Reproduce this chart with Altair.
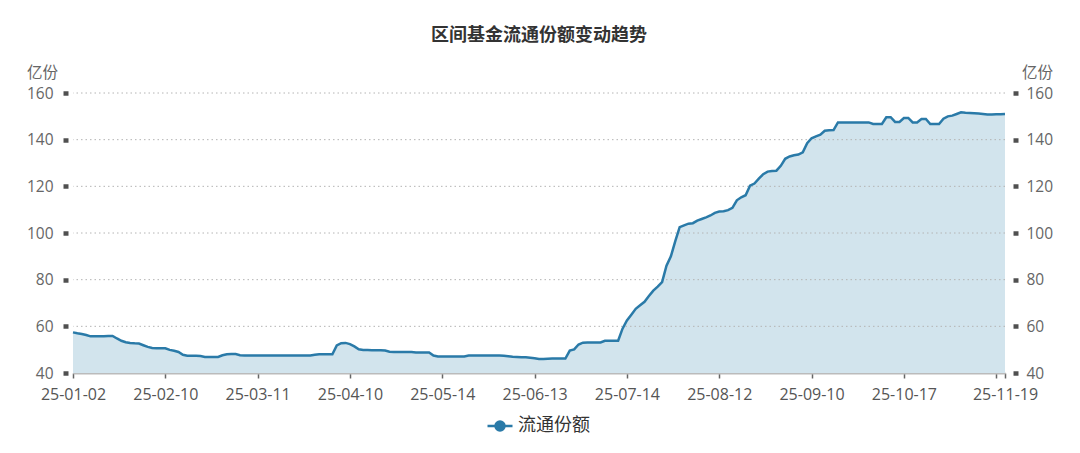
import altair as alt
import pandas as pd

TITLE = "区间基金流通份额变动趋势"
SERIES = "流通份额"
UNIT = "亿份"

# one value per trading day (2025-01-02 .. 2025-11-19)
VALUES = [
    57.4, 57.0, 56.7, 56.3, 55.7, 55.7, 55.7, 55.8, 55.9, 55.9,
    54.8, 53.8, 53.2, 52.9, 52.7, 52.6, 51.9, 51.2, 50.7, 50.6,
    50.6, 50.6, 49.9, 49.5, 49.0, 47.8, 47.4, 47.4, 47.4, 47.3,
    46.9, 46.9, 46.9, 46.9, 47.6, 48.0, 48.1, 48.1, 47.6, 47.5,
    47.5, 47.5, 47.5, 47.5, 47.5, 47.5, 47.5, 47.5, 47.5, 47.5,
    47.5, 47.5, 47.5, 47.5, 47.5, 47.8, 48.0, 48.0, 48.0, 48.0,
    51.8, 52.8, 52.9, 52.4, 51.4, 50.2, 49.9, 49.9, 49.8, 49.8,
    49.7, 49.6, 49.1, 49.0, 49.0, 49.0, 49.0, 49.0, 48.8, 48.8,
    48.8, 48.8, 47.5, 47.1, 47.1, 47.1, 47.1, 47.1, 47.1, 47.1,
    47.5, 47.5, 47.5, 47.5, 47.5, 47.5, 47.5, 47.5, 47.4, 47.2,
    47.0, 46.9, 46.8, 46.7, 46.5, 46.3, 46.0, 46.0, 46.1, 46.2,
    46.2, 46.2, 46.2, 49.6, 50.1, 52.2, 53.0, 53.1, 53.1, 53.1,
    53.1, 53.8, 53.8, 53.8, 53.8, 59.0, 62.5, 65.0, 67.5, 69.0,
    70.5, 73.0, 75.3, 77.0, 79.0, 86.0, 90.0, 96.5, 102.5, 103.3,
    104.0, 104.2, 105.3, 106.0, 106.7, 107.5, 108.6, 109.2, 109.3, 109.8,
    110.8, 114.0, 115.3, 116.2, 120.3, 121.2, 123.3, 125.2, 126.3, 126.6,
    126.7, 128.8, 131.8, 132.8, 133.3, 133.6, 134.6, 138.5, 140.6, 141.4,
    142.1, 143.8, 144.0, 144.1, 147.4, 147.4, 147.4, 147.4, 147.4, 147.4,
    147.4, 147.4, 146.7, 146.7, 146.7, 149.6, 149.6, 147.6, 147.6, 149.3,
    149.3, 147.4, 147.4, 148.9, 148.9, 146.7, 146.7, 146.7, 149.0, 150.0,
    150.3, 151.0, 151.7, 151.5, 151.4, 151.3, 151.2, 151.0, 150.8, 150.8,
    150.9, 150.9, 151.0,
]

TICK_IDX = [0, 21, 42, 63, 84, 105, 126, 147, 168, 189, 210, 212]
TICK_LABELS = ["25-01-02", "25-02-10", "25-03-11", "25-04-10", "25-05-14",
               "25-06-13", "25-07-14", "25-08-12", "25-09-10", "25-10-17",
               "", "25-11-19"]
Y_TICKS = [40, 60, 80, 100, 120, 140, 160]
GRID = [60, 80, 100, 120, 140, 160]

LINE = "#2a7aa8"
FILL = "#d2e4ed"
FONT = "'Open Sans', 'Noto Sans CJK SC', sans-serif"

df = pd.DataFrame({"idx": list(range(len(VALUES))), "value": VALUES, "series": SERIES})
grid_df = pd.DataFrame({"g": GRID})

label_expr = ("[" + ",".join("'%s'" % s for s in TICK_LABELS) + "][indexof(["
              + ",".join(str(i) for i in TICK_IDX) + "], datum.value)]")

xscale = alt.Scale(domain=[0, len(VALUES) - 1], nice=False, zero=False)
yscale = alt.Scale(domain=[40, 160], nice=False, zero=False)

x_axis = alt.Axis(values=TICK_IDX, labelExpr=label_expr, title=None, grid=False,
                  domainColor="#bbbbbb", domainWidth=2, tickColor="#666666",
                  tickSize=5, tickWidth=1.5, labelFontSize=16, labelColor="#555555",
                  labelPadding=8, labelFlush=False, labelOverlap=False, labelFont=FONT)


def y_axis(orient, offset, pad, tx):
    return alt.Axis(orient=orient, values=Y_TICKS, grid=False, domain=False,
                    ticks=True, tickSize=5, tickWidth=4.5, tickColor="#505050",
                    offset=offset, labelFontSize=15.5, labelColor="#666666",
                    labelPadding=pad, labelFont=FONT,
                    title=UNIT, titleAngle=0, titleX=tx, titleY=-21,
                    titleAlign="center", titleBaseline="middle", titleFontSize=15.5,
                    titleFontWeight="normal", titleColor="#666666", titleFont=FONT)


PATH = ("M-1,0L1,0M0.36,0A0.36,0.36,0,1,1,-0.36,0"
        "A0.36,0.36,0,1,1,0.36,0Z")

area = alt.Chart(df).mark_area(color=FILL, opacity=1, clip=True).encode(
    x=alt.X("idx:Q", scale=xscale, axis=x_axis),
    y=alt.Y("value:Q", scale=yscale, axis=y_axis("left", 5, 10, -26)),
)

grid = alt.Chart(grid_df).mark_rule(color="#b4b4b4", strokeWidth=1,
                                    strokeDash=[1.5, 3]).encode(
    y=alt.Y("g:Q", scale=yscale, axis=None),
)

line = alt.Chart(df).mark_line(strokeWidth=2.5).encode(
    x=alt.X("idx:Q", scale=xscale, axis=x_axis),
    y=alt.Y("value:Q", scale=yscale, axis=y_axis("right", 8, 8, 24)),
    color=alt.Color("series:N", scale=alt.Scale(range=[LINE]),
                    legend=alt.Legend(title=None, orient="none", legendX=413,
                                      legendY=319, symbolType=PATH, symbolSize=625,
                                      symbolStrokeWidth=2.5, symbolFillColor=LINE,
                                      symbolStrokeColor=LINE, labelFontSize=18,
                                      labelColor="#333333", labelOffset=4,
                                      padding=0, labelFont=FONT)),
)

chart = alt.layer(area, grid, line).resolve_scale(y="independent").properties(
    width=932,
    height=280,
    autosize=alt.AutoSizeParams(type="none"),
    padding={"left": 65, "top": 85, "right": 67, "bottom": 72},
    title=alt.TitleParams(TITLE, fontSize=18, fontWeight="bold", color="#333333",
                          anchor="middle", offset=20, font=FONT),
    background="white",
).configure_view(stroke=None)

chart.save("out.html", embed_options={"renderer": "svg", "actions": False})
